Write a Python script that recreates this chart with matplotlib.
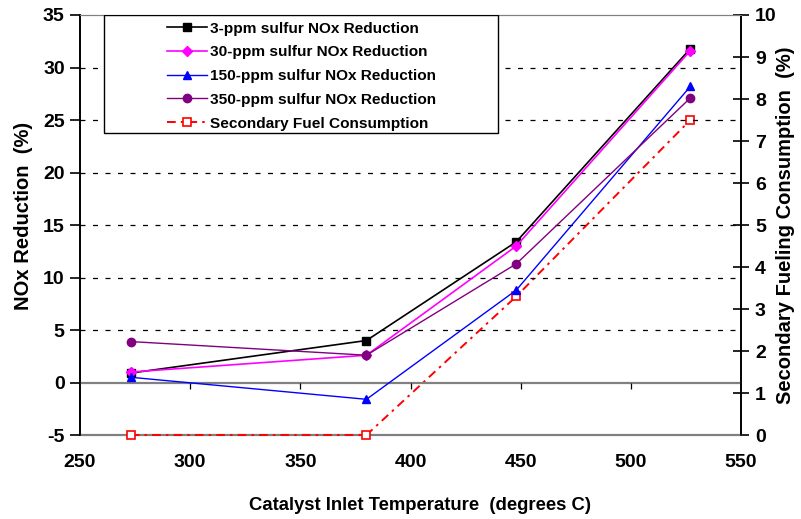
import numpy as np
import matplotlib
matplotlib.use("Agg")
import matplotlib.pyplot as plt
from matplotlib.patches import Rectangle

plt.rcParams['font.family'] = ['Liberation Sans', 'DejaVu Sans']
plt.rcParams['font.weight'] = 'bold'
plt.rcParams['axes.unicode_minus'] = False

# catalyst inlet temperature (deg C)
temps = [273, 380, 448, 527]

# NOx reduction (%) for each fuel sulfur level
nox_3ppm = [0.9, 4.0, 13.4, 31.8]
nox_30ppm = [1.0, 2.6, 13.0, 31.6]
nox_150ppm = [0.5, -1.6, 8.8, 28.2]
nox_350ppm = [3.9, 2.6, 11.3, 27.1]

# secondary fuel consumption (%) on right axis
fuel_use = [0.0, 0.0, 3.3, 7.5]

xticks = [250, 300, 350, 400, 450, 500, 550]


def make_plot():
    fig = plt.figure(figsize=(8.01, 5.19), dpi=100)
    ax = fig.add_axes([0.0999, 0.1618, 0.8252, 0.8093])
    ax2 = ax.twinx()

    # dashed grid and the zero line
    for yv in [5, 10, 15, 20, 25, 30]:
        ax.axhline(yv, color='black', lw=0.9, ls=(0, (4, 6)), zorder=0)
    ax.axhline(0, color='#808080', lw=1.6, zorder=1)
    ax.vlines(xticks[1:-1], -0.65, 0, color='black', lw=0.9, zorder=1)

    ms = 5.5
    l1, = ax.plot(temps, nox_3ppm, color='black', lw=1.2, marker='s', ms=ms,
                  label='3-ppm sulfur NOx Reduction')
    l2, = ax.plot(temps, nox_30ppm, color='#ff00ff', lw=1.2, marker='D', ms=ms - 0.8,
                  label='30-ppm sulfur NOx Reduction')
    l3, = ax.plot(temps, nox_150ppm, color='#0000ff', lw=1.0, marker='^', ms=ms + 0.5,
                  label='150-ppm sulfur NOx Reduction')
    l4, = ax.plot(temps, nox_350ppm, color='#800080', lw=1.0, marker='o', ms=ms + 0.5,
                  label='350-ppm sulfur NOx Reduction')
    l5, = ax2.plot(temps, fuel_use, color='#ff0000', lw=1.4, ls=(0, (4.5, 2.6, 1.3, 2.6)),
                   marker='s', ms=ms + 0.5, mfc='white', mec='#ff0000', mew=1.2,
                   label='Secondary Fuel Consumption', clip_on=False, zorder=3)

    ax.set_xlim(250, 550)
    ax.set_ylim(-5, 35)
    ax2.set_ylim(0, 10)
    ax.set_xticks(xticks)
    ax.set_yticks(np.arange(-5, 36, 5))
    ax2.set_yticks(np.arange(0, 11, 1))

    ax.tick_params(axis='x', length=0, pad=14, labelsize=14)
    ax.tick_params(axis='y', direction='out', length=7, width=1.2, labelsize=14, pad=4)
    ax2.tick_params(axis='y', direction='inout', length=12, width=1.2, labelsize=14, pad=4)

    for a in (ax, ax2):
        a.spines['top'].set_color('#808080')
        a.spines['bottom'].set_color('#808080')
        a.spines['bottom'].set_linewidth(1.6)
        a.spines['left'].set_color('black')
        a.spines['right'].set_color('black')
        a.spines['left'].set_linewidth(1.2)
        a.spines['right'].set_linewidth(1.2)
    # the top axes must not hide the red line lying on the bottom edge
    ax.spines['bottom'].set_visible(False)

    ax.set_xlabel('Catalyst Inlet Temperature  (degrees C)', fontsize=13.3,
                  fontweight='bold', va='center')
    ax.xaxis.set_label_coords(0.514, -0.1667)
    ax.set_ylabel('NOx Reduction  (%)', fontsize=14.5, fontweight='bold')
    ax.yaxis.set_label_coords(-0.0862, 0.521)
    ax.yaxis.label.set_va('center')
    ax2.set_ylabel('Secondary Fueling Consumption  (%)', fontsize=14.5,
                   fontweight='bold')
    ax2.yaxis.set_label_coords(1.0666, 0.5)
    ax2.yaxis.label.set_va('center')

    # legend box (Excel style, wider than its entries)
    box = Rectangle((0.0363, 0.719), 0.596, 0.281, transform=ax.transAxes,
                    facecolor='white', edgecolor='black', lw=1.0, zorder=9)
    ax.add_patch(box)
    leg = ax.legend(handles=[l1, l2, l3, l4, l5], loc='upper left',
                    bbox_to_anchor=(0.1316, 0.984), fontsize=11.1, frameon=False,
                    handlelength=2.6, handletextpad=0.2, labelspacing=0.63,
                    borderpad=0, borderaxespad=0)
    leg.set_zorder(10)
    ax.set_zorder(ax2.get_zorder() + 1)
    ax.patch.set_visible(False)

    fig.savefig('out.png', dpi=100)


if __name__ == "__main__":
    make_plot()
